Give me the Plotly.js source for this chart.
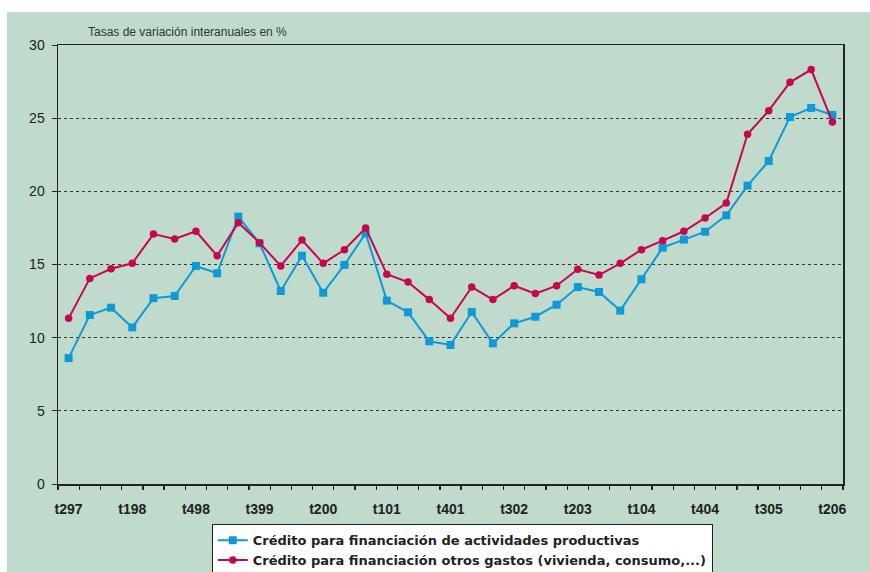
<!DOCTYPE html>
<html>
<head>
<meta charset="utf-8">
<script src="https://cdn.plot.ly/plotly-3.0.1.min.js"></script>
<style>html,body{margin:0;padding:0;background:#fff;}#chart{width:870px;height:572px;}</style>
</head>
<body>
<div id="chart"></div>
<script>
const quarters = ["t297","t397","t497","t198","t298","t398","t498","t199","t299","t399","t499","t100","t200","t300","t400","t101","t201","t301","t401","t102","t202","t302","t402","t103","t203","t303","t403","t104","t204","t304","t404","t105","t205","t305","t405","t106","t206"];
const shownLabels = ["t297","t198","t498","t399","t200","t101","t401","t302","t203","t104","t404","t305","t206"];
const seriesNames = ["Crédito para financiación de actividades productivas","Crédito para financiación otros gastos (vivienda, consumo,...)"];
const productivas = [8.6,11.55,12.05,10.7,12.7,12.85,14.9,14.4,18.27,16.45,13.19,15.6,13.07,14.97,17.13,12.53,11.73,9.75,9.5,11.75,9.61,10.98,11.43,12.25,13.46,13.12,11.85,13.99,16.15,16.7,17.24,18.36,20.39,22.07,25.08,25.7,25.22];
const otrosGastos = [11.32,14.05,14.71,15.08,17.08,16.74,17.27,15.6,17.86,16.49,14.9,16.67,15.08,16.01,17.49,14.33,13.8,12.6,11.32,13.46,12.6,13.55,13.01,13.55,14.67,14.28,15.08,16.01,16.63,17.27,18.18,19.2,23.9,25.51,27.45,28.32,24.74];
const yTicks = [0,5,10,15,20,25,30];

const xIdx = quarters.map((q,i)=>i);
const tickIdx = shownLabels.map(l=>quarters.indexOf(l));

const FONT = "Liberation Sans, Arial, sans-serif";
const traces = [
  {x:xIdx, y:productivas, name:seriesNames[0], type:'scatter', mode:'lines+markers',
   line:{color:'#0f9ad6', width:2}, marker:{symbol:'square', size:8, color:'#0f9ad6'}},
  {x:xIdx, y:otrosGastos, name:seriesNames[1], type:'scatter', mode:'lines+markers',
   line:{color:'#c8064f', width:2}, marker:{symbol:'circle', size:7.5, color:'#c8064f'}}
];
const layout = {
  width:870, height:572,
  margin:{l:58, r:27, t:45, b:88, autoexpand:false},
  paper_bgcolor:'#ffffff',
  plot_bgcolor:'rgba(0,0,0,0)',
  font:{family:FONT, color:'#222'},
  showlegend:true,
  legend:{x:0.515, xanchor:'center', yref:'container', y:0.0835, yanchor:'top', bgcolor:'#ffffff', bordercolor:'#222', borderwidth:1,
    font:{family:"DejaVu Sans, Liberation Sans, sans-serif", size:13, color:'#222', weight:'bold'}, tracegroupgap:0, itemwidth:30},
  xaxis:{range:[-0.5,36.5], tickmode:'array', tickvals:tickIdx, ticktext:shownLabels, ticks:'',
    automargin:false,
    showgrid:false, zeroline:false, showline:true, mirror:true, linecolor:'#222', linewidth:1.5,
    tickfont:{family:FONT, size:14, color:'#222', weight:'bold'}, ticklabelstandoff:12,
    minor:{tickmode:'linear', tick0:-0.5, dtick:1, ticks:'outside', ticklen:4, tickcolor:'#222', tickwidth:1.3, showgrid:false}},
  yaxis:{range:[0,30], tickmode:'array', tickvals:yTicks, ticks:'outside', ticklen:5, tickcolor:'#222',
    automargin:false,
    showline:true, mirror:true, linecolor:'#222', linewidth:1.5, zeroline:false,
    showgrid:true, gridcolor:'#333', griddash:'dot', gridwidth:1,
    tickfont:{family:FONT, size:14, color:'#222'}, ticklabelstandoff:4},
  shapes:[{type:'rect', xref:'paper', yref:'paper', x0:-0.065, x1:1.04, y0:-0.21, y1:1.0752,
    fillcolor:'#c0dbcc', line:{width:0}, layer:'below'}],
  annotations:[{text:'Tasas de variación interanuales en %', xref:'paper', yref:'paper', x:0.036, y:1.03,
    xanchor:'left', yanchor:'middle', showarrow:false, font:{family:FONT, size:12, color:'#333'}}]
};
Plotly.newPlot('chart', traces, layout, {displayModeBar:false, staticPlot:true});
</script>
</body>
</html>
